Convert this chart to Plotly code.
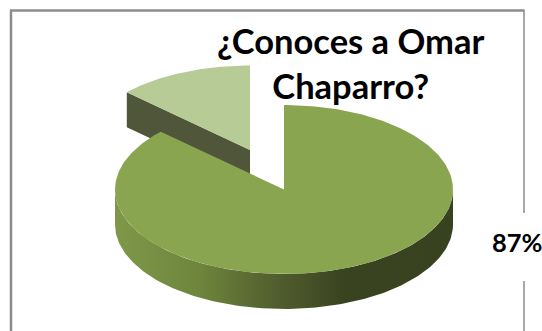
import numpy as np
import plotly.graph_objects as go

# Survey answers, in percent
categories = ["Sí", "No"]
values = [87, 13]
value_labels = ["87%"]
title_lines = ["¿Conoces a Omar", "Chaparro?"]

# Pie geometry, in page pixels
CX, CY = 284, 189.5
RX, RY = 169, 84.5
DEPTH = 35
EXPLODE_DX, EXPLODE_DY = -34, -39.5

FONT = "Lato, Carlito, Calibri, sans-serif"
TOP_MAIN = "#8AA550"
TOP_SMALL = "#B6CB96"
WALL_SMALL = "#4F5639"
FRAME = "#8C8C8C"


def rim(frac_from, frac_to, cx, cy, n=160):
    """Points along the ellipse, clockwise from 12 o'clock, in fractions of a turn."""
    t = 2 * np.pi * np.linspace(frac_from, frac_to, n)
    return cx + RX * np.sin(t), cy - RY * np.cos(t)


def polygon(x, y, color=None, gradient=None):
    kwargs = dict(fillgradient=gradient) if gradient else dict(fillcolor=color)
    return go.Scatter(x=x, y=y, mode="lines", fill="toself", line=dict(width=0),
                      hoverinfo="skip", showlegend=False, **kwargs)


share = values[0] / sum(values)
fig = go.Figure()

# Detached slice: cut face first, then its top
sx, sy = CX + EXPLODE_DX, CY + EXPLODE_DY
corner_x, corner_y = rim(share, share, sx, sy, n=1)
fig.add_trace(polygon(
    [corner_x[0], sx, sx, corner_x[0]],
    [corner_y[0], sy, sy + DEPTH, corner_y[0] + DEPTH],
    WALL_SMALL,
))
ax, ay = rim(share, 1, sx, sy)
fig.add_trace(polygon(np.r_[sx, ax], np.r_[sy, ay], TOP_SMALL))

# Front wall of the large slice, shaded from left to right
wx, wy = rim(0.25, 0.75, CX, CY)
fig.add_trace(polygon(
    np.r_[wx, wx[::-1]],
    np.r_[wy, wy[::-1] + DEPTH],
    gradient=dict(
        type="horizontal",
        colorscale=[
            [0.0, "#7E9849"],
            [0.25, "#6E853C"],
            [0.47, "#525F2F"],
            [0.68, "#3A4320"],
            [1.0, "#394220"],
        ],
    ),
))

# Top of the large slice
mx, my = rim(0, share, CX, CY, n=300)
fig.add_trace(polygon(np.r_[CX, mx], np.r_[CY, my], TOP_MAIN))

shapes = [
    dict(type="line", x0=11, x1=11, y0=10, y1=331, line=dict(color=FRAME, width=2.5)),
    dict(type="line", x0=10, x1=524.5, y0=10.5, y1=10.5, line=dict(color=FRAME, width=2.5)),
    dict(type="line", x0=524, x1=524, y0=10, y1=331, line=dict(color=FRAME, width=1.5)),
    dict(type="rect", x0=490, x1=542, y0=213, y1=281, fillcolor="white", line=dict(width=0)),
]
for s in shapes:
    s["layer"] = "below"

fig.update_layout(
    width=542, height=331,
    margin=dict(l=0, r=0, t=0, b=0),
    paper_bgcolor="white", plot_bgcolor="white",
    showlegend=False,
    xaxis=dict(range=[0, 542], visible=False, fixedrange=True),
    yaxis=dict(range=[331, 0], visible=False, fixedrange=True),
    shapes=shapes,
    annotations=[
        dict(x=350, y=63, xref="x", yref="y", showarrow=False,
             text="<b>" + "<br>".join(title_lines) + "</b>",
             font=dict(family=FONT, size=34.5, color="black")),
        dict(x=516.5, y=241.5, xref="x", yref="y", showarrow=False,
             text="<b>" + value_labels[0] + "</b>",
             font=dict(family=FONT, size=25.5, color="black")),
    ],
)

fig.write_html("out.html", config=dict(displayModeBar=False))
